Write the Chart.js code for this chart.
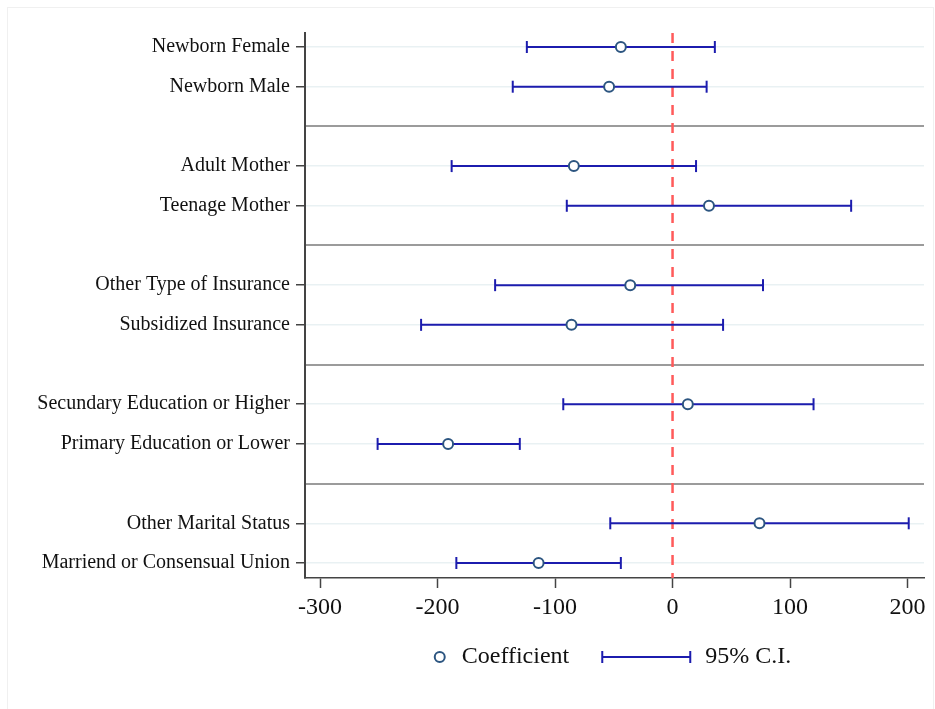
<!DOCTYPE html>
<html>
<head>
<meta charset="utf-8">
<title>Coefficient plot</title>
<script src="https://cdn.jsdelivr.net/npm/chart.js@4.4.1/dist/chart.umd.min.js"></script>
<style>
  html, body { margin: 0; padding: 0; background: #fff; }
  #wrap { position: relative; width: 935px; height: 709px; }
</style>
</head>
<body>
<div id="wrap"><canvas id="canvas"></canvas></div>
<script>
// rows from top to bottom; the missing rows are the group separators
let categories = [
  "Newborn Female", "Newborn Male",
  "Adult Mother", "Teenage Mother",
  "Other Type of Insurance", "Subsidized Insurance",
  "Secundary Education or Higher", "Primary Education or Lower",
  "Other Marital Status", "Marriend or Consensual Union"
];
let rows = [0, 1, 3, 4, 6, 7, 9, 10, 12, 13];
let separators = [2, 5, 8, 11];

let coef  = [-44, -54, -84, 31, -36, -86, 13, -191, 74, -114];
let lower = [-124, -136, -188, -90, -151, -214, -93, -251, -53, -184];
let upper = [36, 29, 20, 152, 77, 43, 120, -130, 201, -44];

let xTicks = [-300, -200, -100, 0, 100, 200];
let refLine = 0;
let legendLabels = ["Coefficient", "95% C.I."];

const X_MIN = -312.8, X_MAX = 214;
const Y_MIN = -0.353, Y_MAX = 13.378;

const coefColor = "#2c5580";
const ciColor = "#1c1cae";
const refColor = "#ff5a5a";
const textColor = "#111";
const serif = "'Liberation Serif', 'DejaVu Serif', serif";

Chart.defaults.font.family = serif;

let coefPoints = coef.map((v, i) => ({ x: v, y: rows[i] }));

let ciPoints = [];
lower.forEach((lo, i) => {
  ciPoints.push({ x: lo, y: rows[i] }, { x: upper[i], y: rows[i] }, { x: NaN, y: NaN });
});

let refPoints = [{ x: refLine, y: Y_MIN }, { x: refLine, y: Y_MAX }];

function labelFor(value) {
  let i = rows.indexOf(value);
  return i < 0 ? "" : categories[i];
}

function isSeparator(value) {
  return separators.indexOf(value) >= 0;
}

// faint frame round the whole graph
let frame = {
  id: "frame",
  beforeDraw(chart) {
    let c = chart.ctx;
    c.save();
    c.strokeStyle = "#f0f0f0";
    c.lineWidth = 1;
    c.strokeRect(7.5, 7.5, 926, 710);
    c.restore();
  }
};

// legend row under the axis: circle + text, capped line + text
let keyRow = {
  id: "keyRow",
  afterDraw(chart) {
    let c = chart.ctx;
    let area = chart.chartArea;
    let y = 657;
    c.save();
    c.font = "24px " + serif;
    let w1 = c.measureText(legendLabels[0]).width;
    let w2 = c.measureText(legendLabels[1]).width;
    let total = 28 + w1 + 32 + 90 + 14 + w2;
    let x0 = (area.left + area.right) / 2 - 2 - total / 2;

    c.lineWidth = 2;
    c.strokeStyle = coefColor;
    c.fillStyle = "#fff";
    c.beginPath();
    c.arc(x0 + 6, y, 5, 0, 2 * Math.PI);
    c.fill();
    c.stroke();

    let lx = x0 + 28 + w1 + 32;
    c.strokeStyle = ciColor;
    c.beginPath();
    c.moveTo(lx, y); c.lineTo(lx + 90, y);
    c.moveTo(lx + 1, y - 6); c.lineTo(lx + 1, y + 6);
    c.moveTo(lx + 89, y - 6); c.lineTo(lx + 89, y + 6);
    c.stroke();

    c.fillStyle = textColor;
    c.textBaseline = "middle";
    c.fillText(legendLabels[0], x0 + 28, y);
    c.fillText(legendLabels[1], lx + 90 + 14, y);
    c.restore();
  }
};

let Chart1 = new Chart(document.getElementById("canvas"), {
  type: "scatter",
  data: {
    datasets: [
      {
        label: legendLabels[0],
        data: coefPoints,
        pointStyle: "circle",
        pointRadius: 5,
        pointBorderWidth: 2,
        pointBorderColor: coefColor,
        pointBackgroundColor: "#fff"
      },
      {
        label: legendLabels[1],
        data: ciPoints,
        showLine: true,
        spanGaps: false,
        borderColor: ciColor,
        borderWidth: 2,
        pointStyle: "line",
        rotation: 90,
        pointRadius: 6,
        pointBorderWidth: 2,
        pointBorderColor: ciColor
      },
      {
        label: "zero",
        data: refPoints,
        showLine: true,
        borderColor: refColor,
        borderWidth: 2.5,
        borderDash: [10, 8],
        pointRadius: 0
      }
    ]
  },
  options: {
    responsive: true,
    maintainAspectRatio: false,
    animation: false,
    events: [],
    layout: { padding: { left: 0, right: 11, top: 33, bottom: 84 } },
    plugins: {
      tooltip: { enabled: false },
      legend: { display: false }
    },
    scales: {
      x: {
        type: "linear",
        min: X_MIN,
        max: X_MAX,
        afterBuildTicks: (s) => { s.ticks = xTicks.map(v => ({ value: v })); },
        afterFit: (s) => { s.height = 47; s.paddingLeft = 0; s.paddingRight = 0; },
        grid: { drawOnChartArea: false, tickLength: 10, tickColor: "#444", tickWidth: 1.5 },
        border: { color: "#444", width: 1.5 },
        ticks: { color: textColor, font: { size: 24 }, padding: 5, autoSkip: false, maxRotation: 0 }
      },
      y: {
        type: "linear",
        reverse: true,
        min: Y_MIN,
        max: Y_MAX,
        afterBuildTicks: (s) => {
          s.ticks = rows.concat(separators).map(v => ({ value: v }));
        },
        afterFit: (s) => { s.width = 305; },
        grid: {
          color: (ctx) => isSeparator(ctx.tick.value) ? "#9b9b9b" : "#e9f1f3",
          lineWidth: (ctx) => isSeparator(ctx.tick.value) ? 2 : 1.5,
          tickColor: (ctx) => isSeparator(ctx.tick.value) ? "rgba(0,0,0,0)" : "#444",
          tickLength: 9,
          tickWidth: 1.5
        },
        border: { color: "#444", width: 2 },
        ticks: {
          color: textColor,
          font: { size: 20 },
          padding: 6,
          autoSkip: false,
          callback: (v) => labelFor(v)
        }
      }
    }
  },
  plugins: [frame, keyRow]
});
</script>
</body>
</html>
